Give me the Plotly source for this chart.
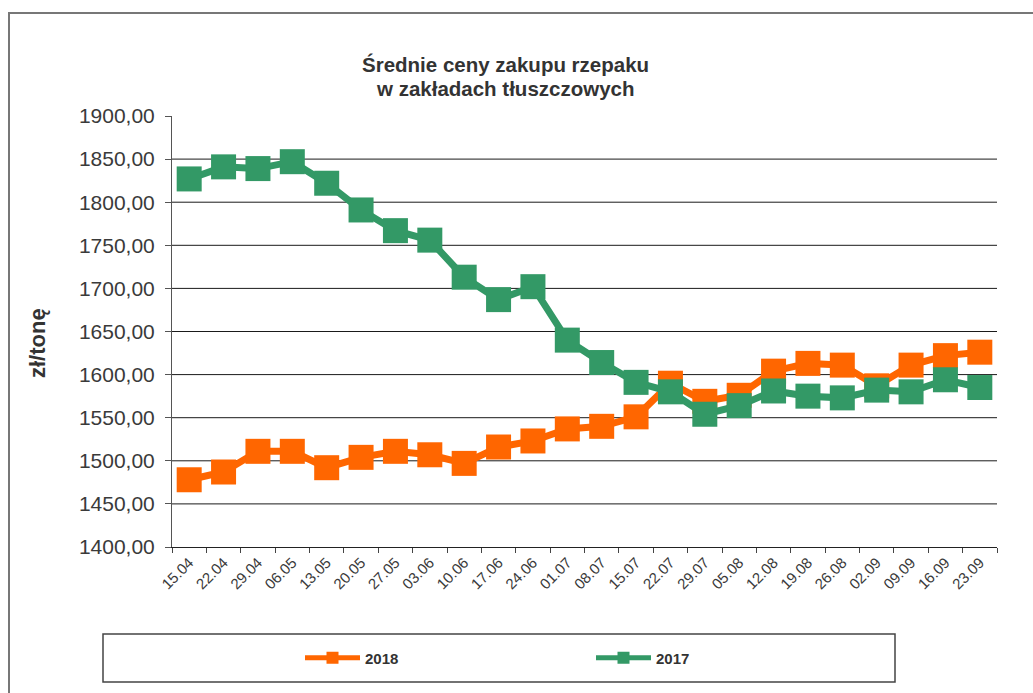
import plotly.graph_objects as go

categories = ["15.04", "22.04", "29.04", "06.05", "13.05", "20.05", "27.05", "03.06",
              "10.06", "17.06", "24.06", "01.07", "08.07", "15.07", "22.07", "29.07",
              "05.08", "12.08", "19.08", "26.08", "02.09", "09.09", "16.09", "23.09"]

values_2018 = [1478, 1487, 1511, 1511, 1492, 1504, 1511, 1507, 1497, 1516, 1523, 1537,
               1540, 1551, 1590, 1569, 1576, 1604, 1613, 1611, 1587, 1611, 1622, 1626]

values_2017 = [1827, 1841, 1839, 1847, 1822, 1791, 1767, 1756, 1713, 1687, 1702, 1640,
               1614, 1591, 1580, 1554, 1564, 1581, 1575, 1573, 1582, 1580, 1594, 1585]

grid_values = [1450, 1500, 1550, 1600, 1650, 1700, 1750, 1800, 1850]

FONT = "Liberation Sans, Arial, sans-serif"
TXT = "#333333"
TICK_TXT = "#3a3a3a"
ORANGE = "#FF6600"
GREEN = "#339966"

# plot area in pixels
L, R, T, B = 172, 997, 116, 547
W, H = 1033, 693
pw, ph = R - L, B - T


def px(x):
    return (x - L) / pw


def py(y):
    return (B - y) / ph


fig = go.Figure()
fig.add_trace(go.Scatter(
    x=categories, y=values_2018, name="2018", mode="lines+markers",
    line=dict(color=ORANGE, width=7),
    marker=dict(symbol="square", size=25, color=ORANGE),
))
fig.add_trace(go.Scatter(
    x=categories, y=values_2017, name="2017", mode="lines+markers",
    line=dict(color=GREEN, width=7),
    marker=dict(symbol="square", size=25, color=GREEN),
))

shapes = []
for g in grid_values:
    shapes.append(dict(type="line", xref="paper", yref="y", x0=0, x1=1, y0=g, y1=g,
                       line=dict(color="#1a1a1a", width=1), layer="below"))
# outer frame
shapes.append(dict(type="rect", xref="paper", yref="paper",
                   x0=px(9), x1=px(1045), y0=py(13), y1=py(705),
                   line=dict(color="#777777", width=2), layer="below"))
# legend box
shapes.append(dict(type="rect", xref="paper", yref="paper",
                   x0=px(103), x1=px(895), y0=py(634), y1=py(682),
                   line=dict(color="#444444", width=1.5), layer="below"))

annotations = [
    dict(text="<b>Średnie ceny zakupu rzepaku</b>",
         xref="paper", yref="paper", x=px(505), y=py(65), xanchor="center", yanchor="middle",
         showarrow=False, font=dict(family=FONT, size=20.5, color=TXT)),
    dict(text="<b>w zakładach tłuszczowych</b>",
         xref="paper", yref="paper", x=px(505), y=py(88), xanchor="center", yanchor="middle",
         showarrow=False, font=dict(family=FONT, size=20.5, color=TXT)),
    dict(text="<b>zł/tonę</b>", xref="paper", yref="paper", x=px(37), y=py(343),
         xanchor="center", yanchor="middle", textangle=-90, showarrow=False,
         font=dict(family=FONT, size=22, color=TXT)),
]

fig.update_layout(
    width=W, height=H,
    margin=dict(l=L, r=W - R, t=T, b=H - B, autoexpand=False),
    paper_bgcolor="white", plot_bgcolor="white",
    separators=", ",
    font=dict(family=FONT, color=TXT),
    shapes=shapes,
    annotations=annotations,
    showlegend=True,
    legend=dict(orientation="h", x=px(300), y=py(658), xanchor="left", yanchor="middle",
                bgcolor="rgba(0,0,0,0)", borderwidth=0,
                font=dict(family=FONT, size=15, color=TXT, weight="bold"),
                entrywidth=221, entrywidthmode="pixels", itemwidth=55,
                itemsizing="constant", traceorder="normal"),
)

fig.update_xaxes(
    type="category", range=[-0.5, len(categories) - 0.5],
    showgrid=False, showline=True, linecolor="#222222", linewidth=1,
    ticks="outside", ticklen=5, tickcolor="#444444", tickson="boundaries",
    tickangle=-45, tickfont=dict(family=FONT, size=15, color=TICK_TXT),
    zeroline=False, fixedrange=True,
)
fig.update_yaxes(
    range=[1400, 1900], tickvals=[1400 + 50 * i for i in range(11)], tickformat=".2f",
    showgrid=False, showline=True, linecolor="#555555", linewidth=1,
    ticks="outside", ticklen=6, tickcolor="#555555",
    tickfont=dict(family=FONT, size=21, color=TICK_TXT), ticklabelstandoff=6,
    zeroline=False, fixedrange=True,
)

fig.write_html("out.html", config={"displayModeBar": False},
               post_script="document.body.style.margin='0';")
